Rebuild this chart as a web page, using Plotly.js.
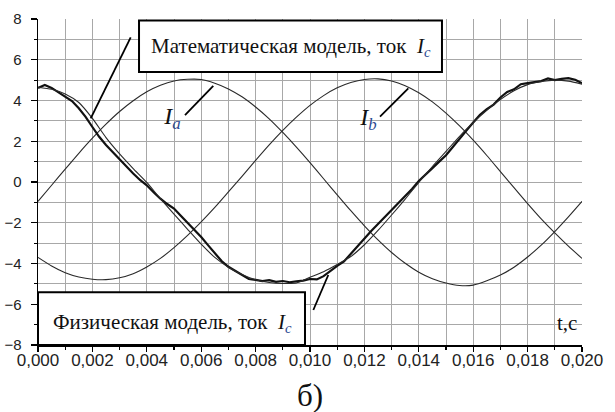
<!DOCTYPE html>
<html>
<head>
<meta charset="utf-8">
<script src="https://cdn.plot.ly/plotly-3.0.1.min.js"></script>
<style>html,body{margin:0;padding:0;background:#fff;}#chart{width:615px;height:412px;}</style>
</head>
<body>
<div id="chart"></div>
<script>
// time grid (s)
const tSmooth = [0.0000,0.0005,0.0010,0.0015,0.0020,0.0025,0.0030,0.0035,0.0040,0.0045,
  0.0050,0.0055,0.0060,0.0065,0.0070,0.0075,0.0080,0.0085,0.0090,0.0095,
  0.0100,0.0105,0.0110,0.0115,0.0120,0.0125,0.0130,0.0135,0.0140,0.0145,
  0.0150,0.0155,0.0160,0.0165,0.0170,0.0175,0.0180,0.0185,0.0190,0.0195,0.0200];
const Ia = [-0.95,-0.16,0.63,1.41,2.15,2.84,3.46,3.99,4.43,4.75,
  4.96,5.04,5.03,4.85,4.57,4.18,3.68,3.10,2.43,1.71,
  0.95,0.16,-0.63,-1.41,-2.15,-2.84,-3.46,-3.99,-4.43,-4.75,
  -4.96,-5.08,-5.06,-4.85,-4.57,-4.18,-3.68,-3.10,-2.43,-1.71,-0.95];
const Ib = [-3.70,-4.12,-4.45,-4.66,-4.77,-4.79,-4.70,-4.50,-4.17,-3.75,
  -3.22,-2.62,-1.96,-1.25,-0.49,0.28,1.06,1.82,2.53,3.18,
  3.76,4.24,4.62,4.88,5.03,5.06,4.96,4.73,4.38,3.93,
  3.38,2.75,2.05,1.30,0.51,-0.28,-1.06,-1.81,-2.50,-3.15,-3.75];
const IcMath = [4.65,4.55,4.32,3.90,3.12,2.18,1.38,0.66,-0.02,-0.82,
  -1.58,-2.32,-3.05,-3.70,-4.18,-4.54,-4.80,-4.93,-4.98,-4.96,
  -4.68,-4.40,-4.05,-3.66,-3.08,-2.38,-1.62,-0.84,-0.02,0.76,
  1.50,2.24,2.92,3.52,4.05,4.48,4.78,4.93,5.00,4.95,4.80];
const tPhys = [0.00000,0.00025,0.00050,0.00075,0.00100,0.00125,0.00150,0.00175,0.00200,0.00225,
  0.00250,0.00275,0.00300,0.00325,0.00350,0.00375,0.00400,0.00425,0.00450,0.00475,
  0.00500,0.00525,0.00550,0.00575,0.00600,0.00625,0.00650,0.00675,0.00700,0.00725,
  0.00750,0.00775,0.00800,0.00825,0.00850,0.00875,0.00900,0.00925,0.00950,0.00975,
  0.01000,0.01025,0.01050,0.01075,0.01100,0.01125,0.01150,0.01175,0.01200,0.01225,
  0.01250,0.01275,0.01300,0.01325,0.01350,0.01375,0.01400,0.01425,0.01450,0.01475,
  0.01500,0.01525,0.01550,0.01575,0.01600,0.01625,0.01650,0.01675,0.01700,0.01725,
  0.01750,0.01775,0.01800,0.01825,0.01850,0.01875,0.01900,0.01925,0.01950,0.01975,0.02000];
const IcPhys = [4.62,4.76,4.62,4.40,4.22,3.97,3.62,3.20,2.70,2.22,
  1.82,1.46,1.10,0.76,0.42,0.10,-0.16,-0.50,-0.82,-1.08,
  -1.30,-1.66,-2.00,-2.33,-2.70,-3.10,-3.50,-3.88,-4.16,-4.36,
  -4.52,-4.76,-4.80,-4.86,-4.82,-4.90,-4.86,-4.92,-4.88,-4.84,
  -4.76,-4.78,-4.62,-4.35,-4.12,-3.90,-3.52,-3.18,-2.80,-2.40,
  -2.06,-1.72,-1.36,-1.02,-0.66,-0.34,0.05,0.35,0.68,1.00,
  1.31,1.72,2.10,2.52,2.92,3.30,3.58,3.80,4.15,4.42,
  4.55,4.80,4.85,4.90,4.95,5.08,5.00,5.06,5.10,5.02,4.85];
const xTicks = [0,0.002,0.004,0.006,0.008,0.010,0.012,0.014,0.016,0.018,0.020];

const thin = {color:'#2a2a2a', width:1.1, shape:'spline', smoothing:0.6};
const traces = [
  {x:tSmooth, y:Ia, mode:'lines', line:thin, name:'Ia'},
  {x:tSmooth, y:Ib, mode:'lines', line:thin, name:'Ib'},
  {x:tPhys, y:IcPhys, mode:'lines', line:{color:'#111', width:2.2}, name:'Ic phys'},
  {x:tSmooth, y:IcMath, mode:'lines', line:thin, name:'Ic math'}
];
const grid = '#a8a8a8';
const serif = "'Liberation Serif', 'Times New Roman', serif";
const sans = "'Liberation Sans', Arial, sans-serif";
const sub = (s)=> '<i>I</i><sub><span style="color:#2b4a92"><i>'+s+'</i></span></sub>';
const layout = {
  width:615, height:412,
  margin:{l:38, r:33, t:19, b:67},
  paper_bgcolor:'#fff', plot_bgcolor:'#fff',
  showlegend:false,
  separators:', ',
  xaxis:{range:[0,0.02], tickvals:xTicks, tickformat:'.3f', ticks:'outside', ticklen:5, tickwidth:1.2, tickcolor:'#000',
    ticklabelstandoff:-6,
    showline:true, linecolor:'#000', linewidth:1.5, zeroline:false, showgrid:true, gridcolor:grid, gridwidth:1,
    tickfont:{family:sans, size:17, color:'#222'},
    minor:{dtick:0.001, tick0:0, showgrid:true, gridcolor:grid, gridwidth:1, ticks:'outside', ticklen:3, tickcolor:'#000'}},
  yaxis:{range:[-8,8], dtick:2, tick0:0, ticks:'outside', ticklen:6, tickwidth:1.2, tickcolor:'#000',
    ticklabelstandoff:6,
    showline:true, linecolor:'#000', linewidth:1.5, zeroline:false, showgrid:true, gridcolor:grid, gridwidth:1,
    tickfont:{family:sans, size:15, color:'#222'},
    minor:{dtick:1, tick0:0, showgrid:true, gridcolor:grid, gridwidth:1, ticks:'outside', ticklen:3, tickcolor:'#000'}},
  shapes:[
    {type:'rect', xref:'paper', yref:'paper', x0:0.1857, x1:0.7426, y0:0.8374, y1:0.9954, line:{color:'#000', width:2}, fillcolor:'#fff', layer:'above'},
    {type:'rect', xref:'paper', yref:'paper', x0:0.0, x1:0.4908, y0:0.0, y1:0.1617, line:{color:'#000', width:2}, fillcolor:'#fff', layer:'above'},
    {type:'line', xref:'paper', yref:'paper', x0:0.1704, y0:0.9439, x1:0.0969, y1:0.6954, line:{color:'#000', width:1.8}},
    {type:'line', xref:'paper', yref:'paper', x0:0.2702, y0:0.7055, x1:0.3222, y1:0.7945, line:{color:'#000', width:1.8}},
    {type:'line', xref:'paper', yref:'paper', x0:0.6287, y0:0.7003, x1:0.6807, y1:0.7874, line:{color:'#000', width:1.8}},
    {type:'line', xref:'paper', yref:'paper', x0:0.5061, y0:0.1074, x1:0.5336, y1:0.2147, line:{color:'#000', width:1.8}}
  ],
  annotations:[
    {xref:'paper', yref:'paper', x:0.2040, y:0.914, xanchor:'left', yanchor:'middle', showarrow:false, width:320, height:36, align:'left', valign:'middle',
     text:'Математическая модель, ток&nbsp;&nbsp;'+sub('c'), font:{family:serif, size:21, color:'#111'}},
    {xref:'paper', yref:'paper', x:0.0240, y:0.0675, xanchor:'left', yanchor:'middle', showarrow:false, width:280, height:36, align:'left', valign:'middle',
     text:'Физическая модель, ток&nbsp;&nbsp;'+sub('c'), font:{family:serif, size:21, color:'#111'}},
    {xref:'paper', yref:'paper', x:0.246, y:0.696, xanchor:'center', yanchor:'middle', showarrow:false, width:34, height:36,
     text:sub('a'), font:{family:serif, size:24, color:'#111'}},
    {xref:'paper', yref:'paper', x:0.6066, y:0.693, xanchor:'center', yanchor:'middle', showarrow:false, width:34, height:36,
     text:sub('b'), font:{family:serif, size:24, color:'#111'}},
    {xref:'paper', yref:'paper', x:0.9724, y:0.0675, xanchor:'center', yanchor:'middle', showarrow:false,
     text:'t,c', font:{family:serif, size:21, color:'#111'}},
    {xref:'paper', yref:'paper', x:0.5, y:-0.156, xanchor:'center', yanchor:'middle', showarrow:false,
     text:'б)', font:{family:serif, size:31, color:'#111'}}
  ]
};
Plotly.newPlot('chart', traces, layout, {displayModeBar:false, staticPlot:true});
</script>
</body>
</html>
